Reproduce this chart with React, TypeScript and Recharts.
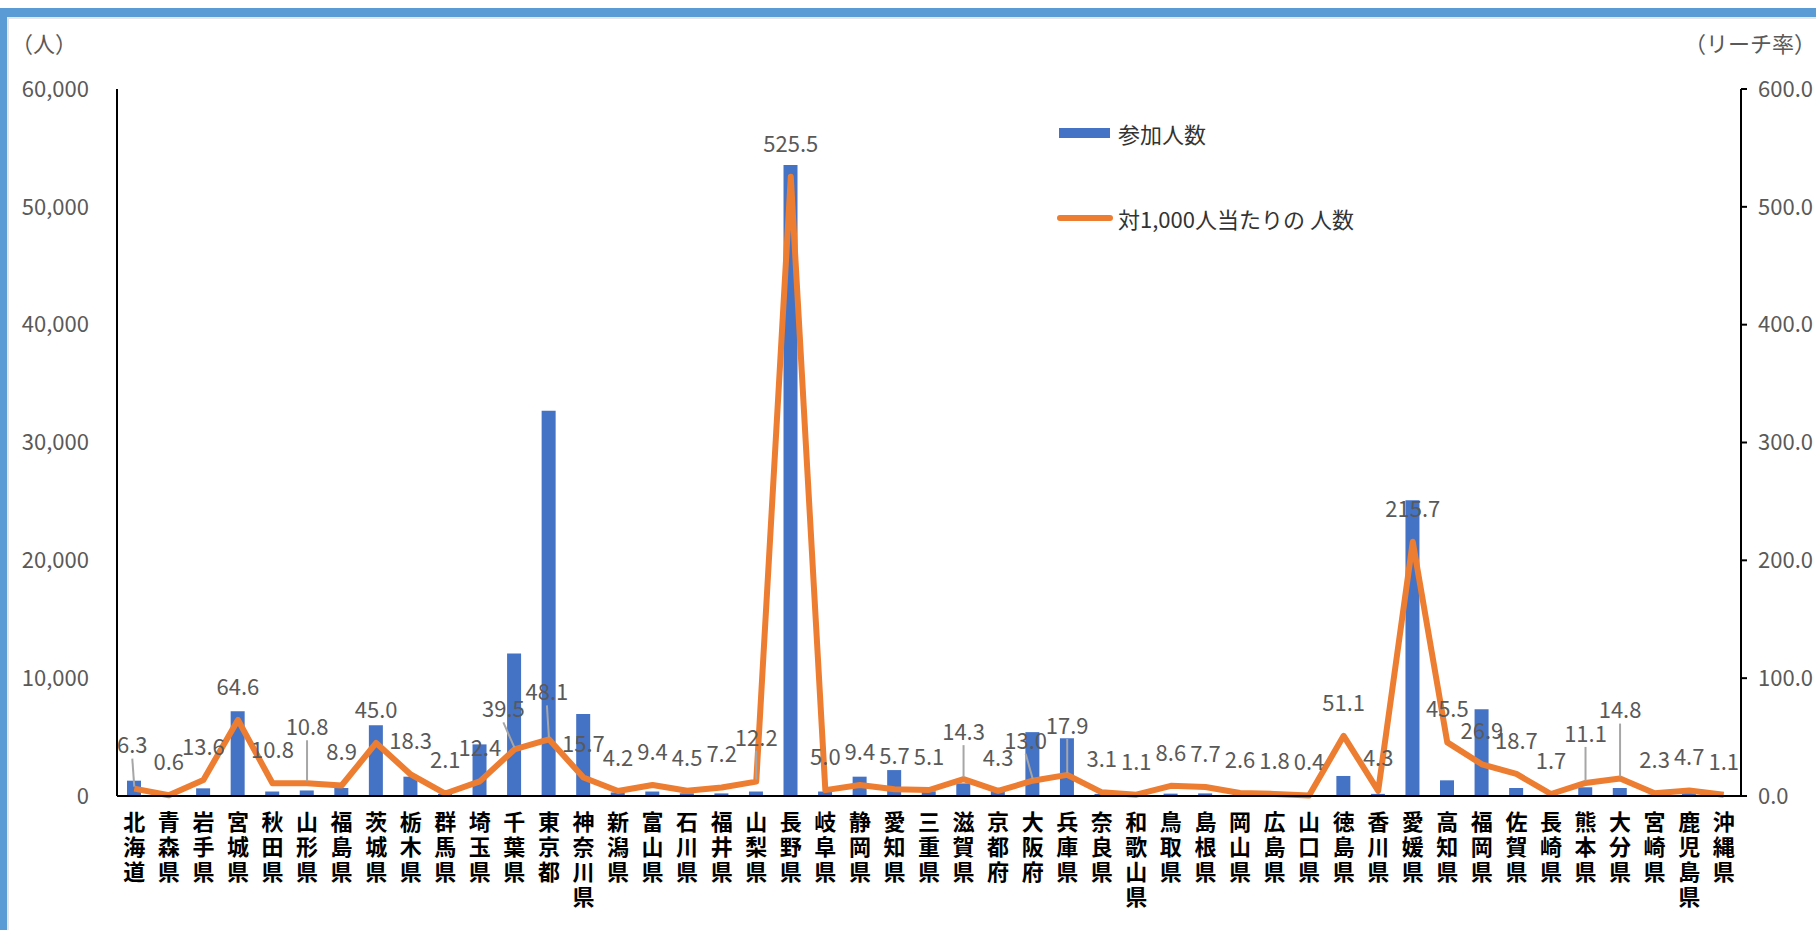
import React from 'react';
import { ComposedChart, Bar, Line, XAxis, YAxis, Legend, LabelList } from 'recharts';

document.body.style.margin = '0';

const prefectures = [
  '北海道', '青森県', '岩手県', '宮城県', '秋田県', '山形県', '福島県', '茨城県', '栃木県', '群馬県',
  '埼玉県', '千葉県', '東京都', '神奈川県', '新潟県', '富山県', '石川県', '福井県', '山梨県', '長野県',
  '岐阜県', '静岡県', '愛知県', '三重県', '滋賀県', '京都府', '大阪府', '兵庫県', '奈良県', '和歌山県',
  '鳥取県', '島根県', '岡山県', '広島県', '山口県', '徳島県', '香川県', '愛媛県', '高知県', '福岡県',
  '佐賀県', '長崎県', '熊本県', '大分県', '宮崎県', '鹿児島県', '沖縄県',
];

// 参加人数
const participants = [
  1300, 35, 650, 7200, 380, 470, 680, 6000, 1640, 180,
  4380, 12100, 32700, 6950, 300, 380, 230, 220, 380, 53550,
  380, 1640, 2200, 400, 1070, 450, 5420, 4900, 180, 45,
  200, 220, 220, 220, 25, 1700, 180, 25100, 1330, 7370,
  680, 100, 740, 680, 110, 330, 70,
];

// 対1,000人当たりの人数 (data labels)
const reachRate = [
  6.3, 0.6, 13.6, 64.6, 10.8, 10.8, 8.9, 45.0, 18.3, 2.1,
  12.4, 39.5, 48.1, 15.7, 4.2, 9.4, 4.5, 7.2, 12.2, 525.5,
  5.0, 9.4, 5.7, 5.1, 14.3, 4.3, 13.0, 17.9, 3.1, 1.1,
  8.6, 7.7, 2.6, 1.8, 0.4, 51.1, 4.3, 215.7, 45.5, 26.9,
  18.7, 1.7, 11.1, 14.8, 2.3, 4.7, 1.1,
];

const leftTicks = [0, 10000, 20000, 30000, 40000, 50000, 60000];
const rightTicks = [0, 100, 200, 300, 400, 500, 600];

const data = prefectures.map((name, i) => ({
  name,
  participants: participants[i],
  rate: reachRate[i],
}));

// labels that were dragged up in the original and got a leader line
const labelNudge: Record<string, { up: number; dx: number }> = {
  北海道: { up: 10, dx: -2 },
  山形県: { up: 23, dx: 0 },
  千葉県: { up: 7, dx: -11 },
  東京都: { up: 14, dx: -2 },
  山梨県: { up: 11, dx: 0 },
  滋賀県: { up: 14, dx: 0 },
  大阪府: { up: 7, dx: -7 },
  兵庫県: { up: 16, dx: 0 },
  熊本県: { up: 16, dx: 0 },
  大分県: { up: 35, dx: 0 },
};

const FONT = '"Noto Sans CJK JP", "Noto Sans", sans-serif';
const GREY = '#595959';

// prefecture names are stacked one character per line under each bar
function PrefTick(props: any) {
  const { x, y, payload } = props;
  const chars = Array.from(String(payload.value));
  return (
    <g>
      {chars.map((c, i) => (
        <text
          key={i}
          x={x}
          y={y + 34 + i * 25}
          textAnchor="middle"
          fontFamily={FONT}
          fontSize={22}
          fontWeight={700}
          fill="#000"
        >
          {c}
        </text>
      ))}
    </g>
  );
}

function RateLabel(props: any) {
  const { x, y, value, index } = props;
  const n = labelNudge[prefectures[index]];
  const up = 33 + (n ? n.up : 0);
  const lx = x + (n ? n.dx : 0);
  const cy = y - up;
  return (
    <g>
      {n && <line x1={lx} y1={cy + 13} x2={x} y2={y - 2} stroke="#a6a6a6" strokeWidth={2} />}
      <text x={lx} y={cy} dy="0.36em" textAnchor="middle" fontFamily={FONT} fontSize={22} fill={GREY}>
        {Number(value).toFixed(1)}
      </text>
    </g>
  );
}

function LegendBox(props: any) {
  const payload = props.payload || [];
  return (
    <div style={{ fontFamily: FONT, fontSize: 22, color: '#333' }}>
      {payload.map((p: any, i: number) => (
        <div
          key={i}
          style={{ display: 'flex', alignItems: 'center', height: 30, marginBottom: i === 0 ? 55 : 0 }}
        >
          {p.type === 'line' ? (
            <span style={{ display: 'inline-block', width: 56, height: 6, borderRadius: 3, background: p.color }} />
          ) : (
            <span
              style={{ display: 'inline-block', width: 51, height: 10, background: p.color, margin: '0 3px 0 2px' }}
            />
          )}
          <span style={{ marginLeft: 5 }}>{p.value}</span>
        </div>
      ))}
    </div>
  );
}

export default function App() {
  return (
    <div style={{ position: 'relative', width: 1816, height: 930, background: '#fff', overflow: 'hidden' }}>
      <div
        style={{
          position: 'absolute',
          top: 8,
          left: 0,
          width: 1816,
          height: 922,
          boxSizing: 'border-box',
          borderTop: '9px solid #5B9BD5',
          borderLeft: '7px solid #5B9BD5',
        }}
      />
      <div
        style={{
          position: 'absolute',
          top: 17,
          left: 7,
          width: 1809,
          height: 913,
          boxSizing: 'border-box',
          borderTop: '2px solid #e6e6e6',
          borderLeft: '2px solid #e6e6e6',
        }}
      />
      <div
        style={{
          position: 'absolute',
          top: 28,
          left: 11,
          fontFamily: FONT,
          fontSize: 22,
          lineHeight: '28px',
          color: GREY,
        }}
      >
        （人）
      </div>
      <div
        style={{
          position: 'absolute',
          top: 28,
          right: 0,
          fontFamily: FONT,
          fontSize: 22,
          lineHeight: '28px',
          color: GREY,
        }}
      >
        （リーチ率）
      </div>
      <div style={{ position: 'absolute', top: 0, left: 0 }}>
        <ComposedChart width={1816} height={930} data={data} margin={{ top: 89, right: 0, bottom: 0, left: 0 }}>
          <XAxis
            dataKey="name"
            interval={0}
            height={134}
            tickLine={false}
            tickSize={0}
            tickMargin={0}
            axisLine={{ stroke: '#000', strokeWidth: 2 }}
            tick={<PrefTick />}
          />
          <YAxis
            yAxisId="left"
            orientation="left"
            width={117}
            domain={[0, 60000]}
            ticks={leftTicks}
            interval={0}
            tickLine={false}
            tickSize={0}
            tickMargin={28}
            axisLine={{ stroke: '#000', strokeWidth: 2 }}
            tick={{ fill: GREY, fontSize: 22, fontFamily: FONT }}
            tickFormatter={(v: number) => v.toLocaleString('en-US')}
          />
          <YAxis
            yAxisId="right"
            orientation="right"
            width={75}
            domain={[0, 600]}
            ticks={rightTicks}
            interval={0}
            tickSize={6}
            tickMargin={11}
            tickLine={{ stroke: '#000', strokeWidth: 2 }}
            axisLine={{ stroke: '#000', strokeWidth: 2 }}
            tick={{ fill: GREY, fontSize: 22, fontFamily: FONT }}
            tickFormatter={(v: number) => v.toFixed(1)}
          />
          <Legend
            layout="vertical"
            align="center"
            verticalAlign="middle"
            wrapperStyle={{ left: 1057, top: 118, width: 'auto' }}
            content={<LegendBox />}
          />
          <Bar yAxisId="left" dataKey="participants" name="参加人数" fill="#4472C4" barSize={14} isAnimationActive={false} />
          <Line
            yAxisId="right"
            type="linear"
            dataKey="rate"
            name="対1,000人当たりの 人数"
            stroke="#ED7D31"
            strokeWidth={6}
            strokeLinejoin="round"
            dot={false}
            isAnimationActive={false}
          >
            <LabelList dataKey="rate" content={<RateLabel />} />
          </Line>
        </ComposedChart>
      </div>
    </div>
  );
}
